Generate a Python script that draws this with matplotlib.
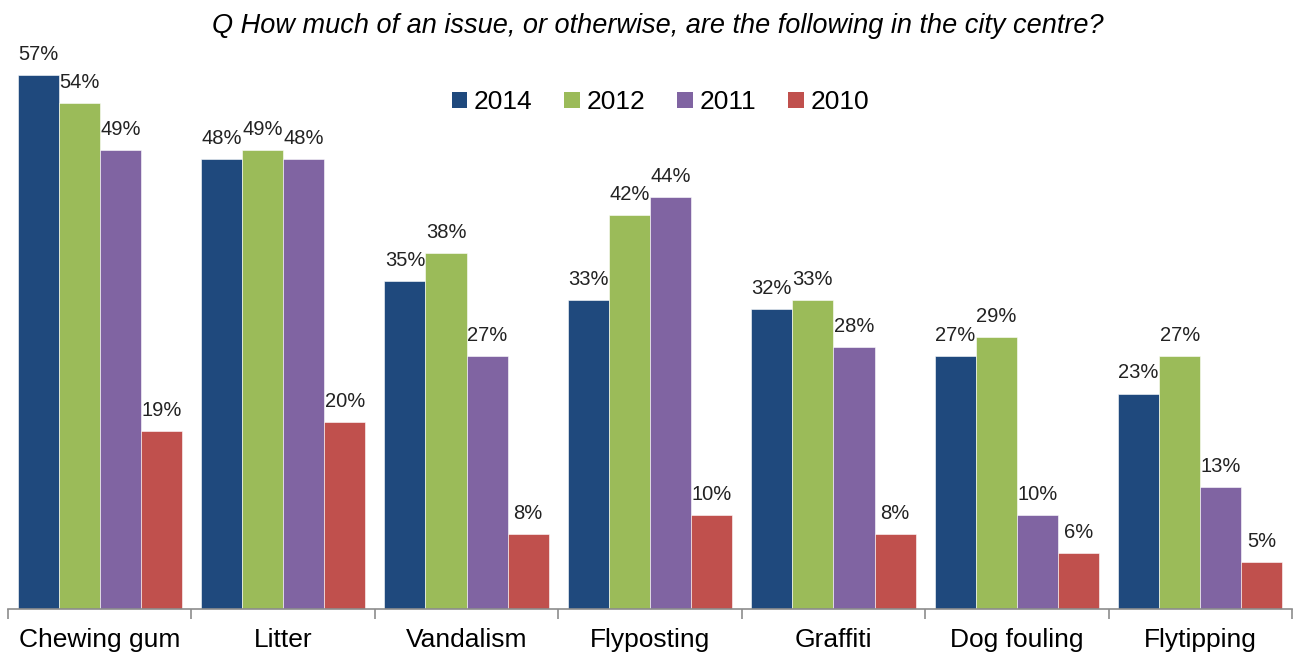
import numpy as np
import matplotlib
matplotlib.use("Agg")
import matplotlib.pyplot as plt
from matplotlib.patches import Patch

plt.rcParams['font.family'] = ['Liberation Sans', 'DejaVu Sans']

categories = ['Chewing gum', 'Litter', 'Vandalism', 'Flyposting',
              'Graffiti', 'Dog fouling', 'Flytipping']
years = ['2014', '2012', '2011', '2010']
v2014 = [57, 48, 35, 33, 32, 27, 23]
v2012 = [54, 49, 38, 42, 33, 29, 27]
v2011 = [49, 48, 27, 44, 28, 10, 13]
v2010 = [19, 20, 8, 10, 8, 6, 5]
colors = ['#1F497D', '#9BBB59', '#8064A2', '#C0504D']

series = [v2014, v2012, v2011, v2010]

fig = plt.figure(figsize=(12.95, 6.55), dpi=100)
ax = fig.add_axes([8 / 1295, 46 / 655, 1284 / 1295, 609 / 655])

x = np.arange(len(categories))
width = 0.224
for i, (vals, col) in enumerate(zip(series, colors)):
    pos = x + (i - 1.5) * width
    bars = ax.bar(pos, vals, width, color=col, edgecolor='white',
                  linewidth=0.4, label=years[i])
    for b, v in zip(bars, vals):
        ax.annotate('{}%'.format(v), (b.get_x() + b.get_width() / 2, v),
                    xytext=(0, 8), textcoords='offset points',
                    ha='center', va='bottom', fontsize=14.5, color='#222222')

ax.set_xlim(-0.5, len(categories) - 0.5)
ax.set_ylim(0, 65)
ax.set_yticks([])
for s in ['top', 'right', 'left']:
    ax.spines[s].set_visible(False)
ax.spines['bottom'].set_color('#8c8c8c')
ax.spines['bottom'].set_linewidth(1.2)

# category labels between boundary ticks
ax.set_xticks(x)
ax.set_xticklabels(categories, fontsize=19)
ax.tick_params(axis='x', length=0, pad=14, colors='black')
ax.set_xticks(np.arange(len(categories) + 1) - 0.5, minor=True)
ax.tick_params(axis='x', which='minor', length=7, width=1.2,
               color='#8c8c8c', direction='out')

handles = [Patch(facecolor=c) for c in colors]
ax.legend(handles, years, loc='center', bbox_to_anchor=(0.508, 0.832),
          ncol=4, frameon=False, fontsize=19, handlelength=0.6,
          handleheight=0.6, handletextpad=0.25, columnspacing=1.2)

fig.text(0.508, 0.96, 'Q How much of an issue, or otherwise, are the following in the city centre?',
         ha='center', va='center', fontsize=19.5, style='italic')

fig.savefig('out.png', dpi=100)
